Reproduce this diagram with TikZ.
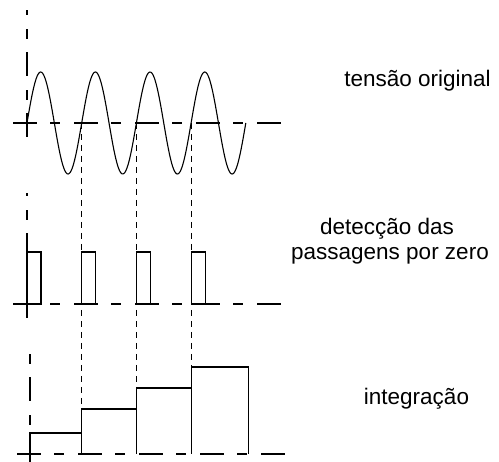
\documentclass[tikz,border=0pt]{standalone}
\usepackage{fontspec}
\setmainfont{Liberation Sans}
\begin{document}
\begin{tikzpicture}[x=1pt,y=-1pt,
  axis/.style={line width=1.1pt, dash pattern=on 24pt off 13pt on 10pt off 14pt},
  guide/.style={line width=1pt, dash pattern=on 6pt off 5pt},
  sig/.style={line width=1.1pt},
  lbl/.style={inner sep=0pt, font=\fontsize{22.5}{25}\selectfont, anchor=base}]
\useasboundingbox (0,0) rectangle (499,462);
% crossing coordinates
\coordinate (c0) at (27,123);
\coordinate (c1) at (81.7,123);
\coordinate (c2) at (136.4,123);
\coordinate (c3) at (191.1,123);
% --- top: original voltage
\draw[axis] (13,123) -- (283,123);
\draw[axis] (27,137) -- (27,10);
\draw[sig] plot[domain=0:218.8, samples=240, smooth] ({27+\x},{123-51*sin(\x/54.7*360)});
% --- middle: zero crossing detection
\draw[axis] (13,304) -- (283,304);
\draw[axis] (27,318) -- (27,193);
\foreach \xx in {27,81.7,136.4,191.1}
  \draw[sig] (\xx,304) -- (\xx,252) -- (\xx+14,252) -- (\xx+14,304) -- cycle;
% --- bottom: integration
\draw[axis] (17,454) -- (287,454);
\draw[axis] (30,462) -- (30,354);
\draw[sig] (30,454) -- (30,433) -- (81.7,433) -- (81.7,454);
\draw[sig] (81.7,454) -- (81.7,409) -- (136.4,409) -- (136.4,454);
\draw[sig] (136.4,454) -- (136.4,388) -- (191.1,388) -- (191.1,454);
\draw[sig] (191.1,454) -- (191.1,367) -- (248.7,367) -- (248.7,454);
\coordinate (s2) at (81.7,409);
\coordinate (s3) at (136.4,388);
\coordinate (s4) at (191.1,367);
% --- guide lines
\draw[guide] (c1) -- (s2);
\draw[guide] (c2) -- (s3);
\draw[guide] (c3) -- (s4);
% --- labels
\node[lbl] (t1) at (417.5,87) {tensão original};
\node[lbl] (t2a) at (387,235) {detecção das};
\node[lbl] (t2b) at (390,260) {passagens por zero};
\node[lbl] (t3) at (416.5,405) {integração};
\end{tikzpicture}
\end{document}
